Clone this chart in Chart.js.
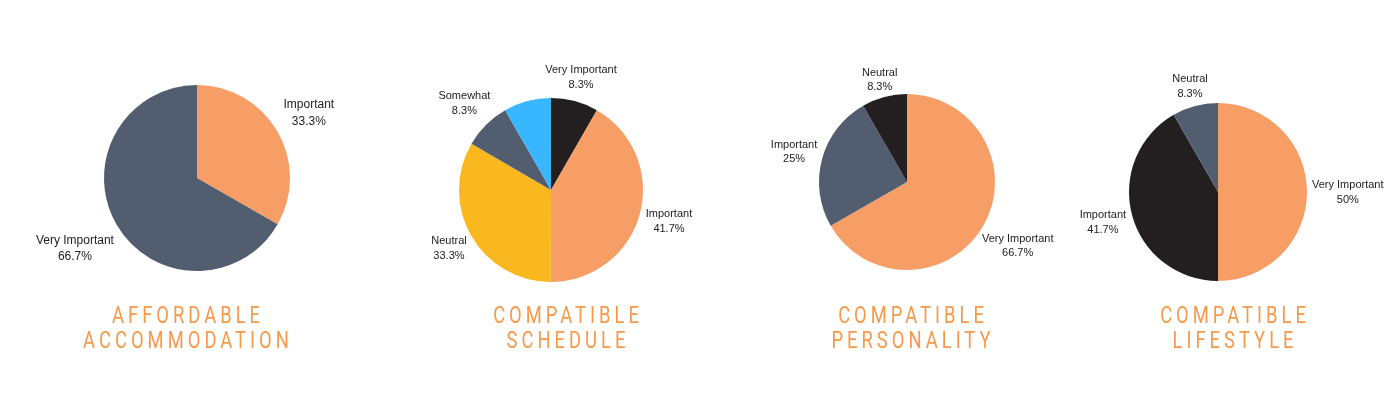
<!DOCTYPE html>
<html>
<head>
<meta charset="utf-8">
<script src="https://cdn.jsdelivr.net/npm/chart.js@4.4.1/dist/chart.umd.min.js"></script>
<style>
  html, body { margin: 0; padding: 0; background: #fff; }
  #stage { position: relative; width: 1400px; height: 420px; overflow: hidden; }
  #stage canvas { position: absolute; left: 0; top: 0; }
  .title {
    position: absolute; width: 400px; text-align: center;
    font-family: Roboto, "DejaVu Sans", sans-serif; font-weight: 400;
    font-size: 23px; line-height: 25px; letter-spacing: 5px;
    color: #f7994a; text-transform: uppercase;
    transform: scaleX(0.8); transform-origin: 50% 0;
  }
</style>
</head>
<body>
<div id="stage">
  <canvas id="pieAfford" width="1400" height="420"></canvas>
  <canvas id="pieSchedule" width="1400" height="420"></canvas>
  <canvas id="piePersonality" width="1400" height="420"></canvas>
  <canvas id="pieLifestyle" width="1400" height="420"></canvas>
  <div class="title" id="t1">Affordable<br>Accommodation</div>
  <div class="title" id="t2">Compatible<br>Schedule</div>
  <div class="title" id="t3">Compatible<br>Personality</div>
  <div class="title" id="t4">Compatible<br>Lifestyle</div>
</div>
<script>
// ---- data ----
const affordLabels = ['Important', 'Very Important'];
const affordValues = [33.3, 66.7];

const scheduleLabels = ['Very Important', 'Important', 'Neutral', 'Somewhat', 'Not Important'];
const scheduleValues = [8.3, 41.7, 33.3, 8.3, 8.3];

const personalityLabels = ['Very Important', 'Important', 'Neutral'];
const personalityValues = [66.7, 25, 8.3];

const lifestyleLabels = ['Very Important', 'Important', 'Neutral'];
const lifestyleValues = [50, 41.7, 8.3];

// ---- colours ----
const ORANGE = '#f79e66';
const SLATE = '#525e6f';
const BLACK = '#231f20';
const YELLOW = '#f9b81d';
const BLUE = '#38b6ff';

// labels outside the pie, two lines, skipped when they would overlap
const outsideLabels = {
    id: 'outsideLabels',
    afterDatasetsDraw(chart, args, opts) {
        const ctx = chart.ctx;
        const meta = chart.getDatasetMeta(0);
        const values = chart.data.datasets[0].data;
        const lh = opts.lineHeight;
        ctx.save();
        ctx.font = opts.size + 'px "Liberation Sans", Arial, sans-serif';
        ctx.fillStyle = '#222';
        ctx.textAlign = 'center';
        ctx.textBaseline = 'middle';
        const boxes = [];
        meta.data.forEach((arc, i) => {
            const p = arc.getProps(['x', 'y', 'startAngle', 'endAngle', 'outerRadius'], true);
            const mid = (p.startAngle + p.endAngle) / 2;
            const lines = [chart.data.labels[i], values[i] + '%'];
            const w = Math.max(...lines.map(l => ctx.measureText(l).width));
            const h = lh * 2;
            const cos = Math.cos(mid), sin = Math.sin(mid);
            const ext = w / 2 * Math.abs(cos) + lh * 0.7 * Math.abs(sin);
            const d = p.outerRadius + opts.gap + ext;
            const cx = p.x + cos * d, cy = p.y + sin * d;
            const box = { l: cx - w / 2, r: cx + w / 2, t: cy - h / 2, b: cy + h / 2 };
            const hit = boxes.some(o => box.l < o.r && box.r > o.l && box.t < o.b && box.b > o.t);
            if (hit) return;
            boxes.push(box);
            ctx.fillText(lines[0], cx, cy - lh / 2);
            ctx.fillText(lines[1], cx, cy + lh / 2);
        });
        ctx.restore();
    }
};

function makePie(id, labels, values, colors, cx, cy, r, size, lineHeight, gap) {
    return new Chart(document.getElementById(id), {
        type: 'pie',
        data: {
            labels: labels,
            datasets: [{ data: values, backgroundColor: colors, borderWidth: 0, hoverOffset: 0 }]
        },
        options: {
            responsive: false,
            animation: false,
            events: [],
            layout: { padding: { left: cx - r, right: 1400 - cx - r, top: cy - r, bottom: 420 - cy - r } },
            plugins: {
                legend: { display: false },
                tooltip: { enabled: false },
                outsideLabels: { size: size, lineHeight: lineHeight, gap: gap }
            }
        },
        plugins: [outsideLabels]
    });
}

makePie('pieAfford', affordLabels, affordValues, [ORANGE, SLATE], 197, 178, 93, 12, 16.5, 8.5);
makePie('pieSchedule', scheduleLabels, scheduleValues, [BLACK, ORANGE, YELLOW, SLATE, BLUE], 551, 190, 92, 11, 15, 5);
makePie('piePersonality', personalityLabels, personalityValues, [ORANGE, SLATE, BLACK], 907, 182, 88, 11, 14, 4);
makePie('pieLifestyle', lifestyleLabels, lifestyleValues, [ORANGE, BLACK, SLATE], 1218, 192, 89, 11, 15, 5);

// titles under each pie
const titleCenters = [[185.5, 303], [565.5, 303], [911, 303], [1232.5, 303]];
titleCenters.forEach(([x, y], i) => {
    const el = document.getElementById('t' + (i + 1));
    el.style.left = (x - 200 + 2) + 'px';
    el.style.top = y + 'px';
});
</script>
</body>
</html>
